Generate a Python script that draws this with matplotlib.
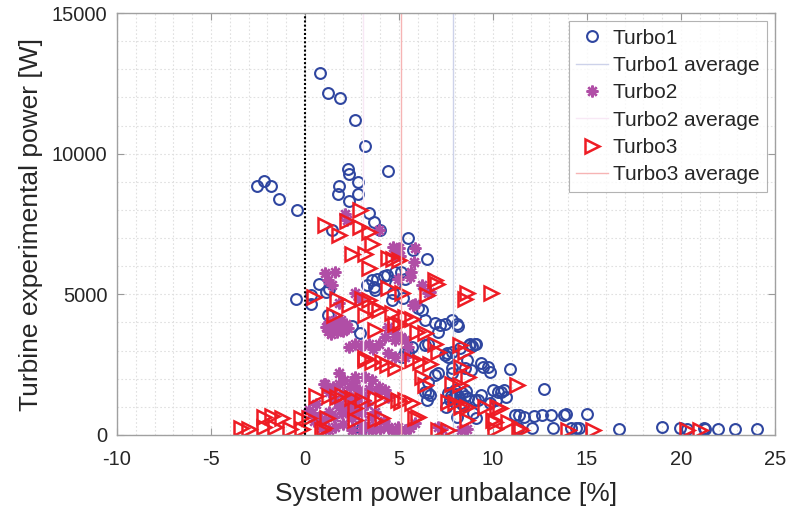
import matplotlib
matplotlib.use("Agg")
import matplotlib.pyplot as plt
from matplotlib.ticker import MultipleLocator

plt.rcParams["font.family"] = ["Liberation Sans", "DejaVu Sans"]
plt.rcParams["axes.unicode_minus"] = False

# Turbo1: system unbalance [%] vs measured power [W]
t1_x = [0.8, 1.2, 1.85, 2.65, 3.2, 4.4, 2.3, 2.35, 2.82, 1.83, 1.75, 2.82, 2.33,
        -2.55, -2.2, -1.82, -1.4, -0.42, 3.42, 3.65, 4.0, 1.45, 5.5, 5.77, 6.48,
        -0.48, 0.74, 1.1, 1.27, 0.3, 0.3, 1.23, 3.3, 3.56, 3.82, 4.18, 4.35, 4.8,
        5.1, 3.74, 3.65, 4.62, 4.7, 5.24, 4.8, 5.33, 2.5, 2.94, 6.03, 6.2, 6.4,
        6.9, 7.2, 7.44, 7.8, 8.06, 7.1, 8.15, 5.68, 6.4, 6.56, 5.33, 5.15, 5.5,
        7.44, 7.53, 7.8, 8.23, 8.7, 8.86, 9.1, 8.76, 9.03, 7.62, 8.6, 8.5, 7.8,
        8.85, 9.47, 9.74, 9.82, 9.38, 10.9, 7.8, 7.1, 6.91, 6.56, 6.39, 6.65,
        6.47, 6.56, 7.97, 7.6, 7.75, 7.9, 8.05, 8.2, 8.35, 8.5, 8.65, 7.7, 8.0,
        8.3, 8.55, 9.38, 10.0, 10.26, 10.6, 10.7, 10.44, 9.82, 9.03, 9.2, 10.18,
        12.74, 8.95, 8.06, 9.11, 11.15, 11.4, 11.67, 12.2, 12.6, 13.1, 13.8,
        13.9, 14.99, 12.1, 11.32, 13.2, 14.15, 14.4, 14.6, 16.7, 19.0, 19.93,
        20.3, 21.2, 21.3, 21.96, 22.9, 24.07, 2.86, 3.03, 7.5, 8.4]
t1_y = [12850, 12150, 11980, 11180, 10280, 9380, 9470, 9290, 9000, 8840, 8580,
        8560, 8310, 8840, 9030, 8850, 8400, 7990, 7900, 7570, 7300, 7280, 7000,
        6580, 6250, 4830, 5370, 5100, 5200, 4970, 4640, 4260, 5320, 5500, 5560,
        5640, 5680, 5800, 5800, 5150, 5260, 4790, 5040, 4880, 5380, 5560, 3880,
        3610, 4500, 4460, 4100, 3990, 3900, 3960, 4080, 3960, 3670, 3870, 3130,
        3200, 3250, 2960, 2780, 2960, 2840, 2900, 2960, 3080, 3200, 3150, 3230,
        3250, 3250, 2780, 2660, 2370, 2370, 2310, 2420, 2400, 2250, 2550, 2340,
        2190, 2190, 2130, 1890, 1540, 1420, 1240, 1480, 1600, 1500, 1400, 1300,
        1450, 1350, 1500, 1400, 1300, 1250, 1200, 1150, 1550, 1420, 1600, 1540,
        1600, 1360, 1540, 1120, 1240, 1240, 1240, 1630, 770, 650, 620, 720, 710,
        650, 680, 710, 710, 720, 750, 750, 240, 240, 240, 240, 250, 240, 210,
        270, 260, 210, 260, 210, 200, 200, 200, 300, 240, 1000, 1050]

# Turbo2
t2_x = [2.15, 2.23, 3.92, 4.7, 4.85, 5.0, 4.8, 5.05, 5.85, 5.82, 5.65, 5.6, 6.2,
        6.65, 5.77, 5.85, 6.56, 1.09, 1.62, 1.45, 1.2, 2.68, 2.9, 4.97, 1.8,
        1.1, 1.3, 1.5, 1.62, 1.8, 2.0, 2.2, 1.4, 1.9, 2.3, 1.2, 1.7, 2.33, 2.68,
        3.0, 3.39, 3.92, 4.27, 4.8, 4.8, 5.33, 5.5, 4.44, 5.1, 3.6, 4.44, 5.33,
        4.8, 1.8, 2.68, 3.2, 3.56, 3.92, 4.27, 4.44, 1.09, 1.0, 1.27, 1.62, 1.8,
        2.33, 2.5, 2.7, 2.0, 2.4, 2.9, 3.1, 3.4, 3.92, 1.8, 2.1, 2.6, 1.5, 1.97,
        3.3, 2.2, 0.21, 0.39, 0.74, 1.09, 1.53, 1.97, 2.5, 3.03, 3.56, 0.92,
        1.27, 2.5, 3.03, 3.56, 4.62, 4.97, 5.33, 8.32, 5.85, 3.03, 3.39, 4.44,
        4.97, 7.1, 1.6, 2.0, 0.5, 1.3, 2.2, 2.8, 4.0, 5.6, 7.3, 8.6, 0.6, 3.7,
        4.2]
t2_y = [7870, 7630, 7280, 6680, 6550, 6650, 6400, 6350, 6630, 6150, 5800, 5620,
        5330, 5100, 4620, 4670, 5030, 5760, 5780, 5330, 5500, 5030, 4850, 5560,
        4680, 3850, 4000, 3750, 4080, 3900, 3700, 3950, 3600, 4100, 3800, 3700,
        3650, 3130, 3250, 3150, 3250, 3250, 3490, 3610, 3370, 3370, 3130, 3850,
        3500, 3050, 2900, 2780, 2780, 2190, 2070, 2070, 1950, 1710, 1600, 1360,
        1830, 1830, 1540, 1240, 1010, 1010, 1300, 1200, 1500, 1700, 1600, 1400,
        1650, 1600, 1830, 1950, 1900, 1700, 1010, 1100, 1300, 890, 770, 650,
        530, 650, 770, 590, 770, 650, 240, 180, 180, 180, 180, 180, 180, 180,
        180, 420, 420, 300, 300, 300, 300, 300, 400, 500, 800, 850, 900, 200,
        250, 200, 200, 1100, 800, 500]

# Turbo3
t3_x = [2.94, 1.09, 2.23, 2.94, 3.39, 1.8, 3.56, 3.17, 2.5, 3.39, 4.4, 4.7, 5.0,
        6.91, 7.0, 4.44, 5.15, 6.47, 8.6, 9.9, 8.5, 0.47, 1.71, 2.33, 3.03, 3.39,
        3.74, 1.53, 3.2, 3.92, 4.62, 5.33, 5.68, 3.74, 4.8, 5.94, 6.39, 6.91,
        7.1, 8.23, 8.5, 8.32, 3.2, 3.56, 4.09, 4.35, 4.79, 5.68, 6.12, 6.65, 6.2,
        6.39, 7.8, 8.23, 8.68, 11.3, 0.56, 1.27, 1.97, 2.5, 3.03, 3.74, 4.09,
        2.68, 5.33, 5.68, 5.1, 6.03, 7.62, 7.97, 8.32, 8.6, 9.6, 10.2, 10.35,
        11.5, 10.1, 10.8, 10.1, 7.1, 7.62, 5.85, 2.68, 3.74, 4.09, 1.18, 0.92,
        0.21, -0.2, -0.15, -0.8, -1.2, -1.75, -2.2, -1.6, -2.2, -3.0, -3.4, 1.0,
        8.6, 10.0, 11.4, 13.97, 15.3, 20.3, 21.0, 4.97, 1.7, 5.06, 3.2]
t3_y = [8000, 7460, 7610, 7400, 7200, 7120, 6780, 6450, 6420, 5920, 6300, 6250,
        6210, 5500, 5380, 5230, 5030, 4970, 5030, 5030, 4850, 4910, 4850, 4620,
        4850, 4790, 4560, 4260, 4260, 4440, 4320, 4200, 4140, 3730, 3960, 3670,
        3610, 3250, 2960, 3200, 2960, 2420, 2660, 2600, 2600, 2480, 2370, 2660,
        2600, 2540, 2070, 1775, 1830, 1775, 2070, 1775, 1370, 1370, 1420, 1300,
        1240, 1300, 1240, 950, 1240, 1120, 1180, 650, 1180, 1120, 1010, 1000,
        990, 990, 950, 180, 470, 470, 200, 180, 180, 590, 530, 530, 590, 590,
        180, 620, 590, 200, 220, 590, 660, 650, 280, 300, 220, 260, 240, 530,
        530, 240, 180, 180, 180, 180, 1240, 1360, 3960, 2730]

# mean unbalance per turbine [%]
t1_avg = 7.9
t2_avg = 3.1
t3_avg = 5.1

BLUE = "#2f46a0"
PURPLE = "#b04ea6"
RED = "#ee1c24"
TEXT = "#262626"

fig = plt.figure(figsize=(7.92, 5.14), dpi=100)
ax = fig.add_axes([0.1477, 0.1537, 0.8308, 0.8210])

ax.plot(t1_x, t1_y, "o", mfc="none", mec=BLUE, ms=7.8, mew=1.5, label="Turbo1")
ax.axvline(t1_avg, color="#cdd2ea", lw=1.0, label="Turbo1 average")
ax.plot(t2_x, t2_y, ls="none", marker=(8, 2, 0), mec=PURPLE, ms=8.5, mew=1.7,
        label="Turbo2")
ax.axvline(t2_avg, color="#f8e8f5", lw=1.0, label="Turbo2 average")
ax.plot(t3_x, t3_y, ">", mfc="none", mec=RED, ms=9.5, mew=1.8, label="Turbo3")
ax.axvline(t3_avg, color="#f6b4b4", lw=1.0, label="Turbo3 average")
ax.axvline(0, color="black", ls=(0, (1, 1)), lw=1.5)

ax.set_xlim(-10, 25)
ax.set_ylim(0, 15000)
ax.xaxis.set_major_locator(MultipleLocator(5))
ax.xaxis.set_minor_locator(MultipleLocator(1))
ax.yaxis.set_major_locator(MultipleLocator(5000))
ax.yaxis.set_minor_locator(MultipleLocator(1000))
ax.grid(which="both", color="#e0e0e0", ls=(0, (1.5, 2)), lw=0.8)
ax.set_axisbelow(True)
ax.tick_params(which="major", direction="in", length=5, top=True, right=True,
               color="#999999", labelsize=14.5, labelcolor=TEXT)
ax.tick_params(axis="x", which="major", pad=11)
ax.tick_params(axis="y", which="major", pad=7)
ax.tick_params(which="minor", length=0)
for sp in ax.spines.values():
    sp.set_color("#a0a0a0")
    sp.set_linewidth(1.0)

ax.set_xlabel("System power unbalance [%]", fontsize=19, color=TEXT, labelpad=9)
ax.set_ylabel("Turbine experimental power [W]", fontsize=19, color=TEXT, labelpad=6)

leg = ax.legend(loc="upper right", fontsize=15, frameon=True, fancybox=False,
                borderaxespad=0.4, handlelength=1.5, handletextpad=0.25,
                labelspacing=0.4, borderpad=0.35)
leg.get_frame().set_edgecolor("#a0a0a0")
leg.get_frame().set_linewidth(0.8)
for t in leg.get_texts():
    t.set_color(TEXT)

fig.savefig("out.png", dpi=100)
